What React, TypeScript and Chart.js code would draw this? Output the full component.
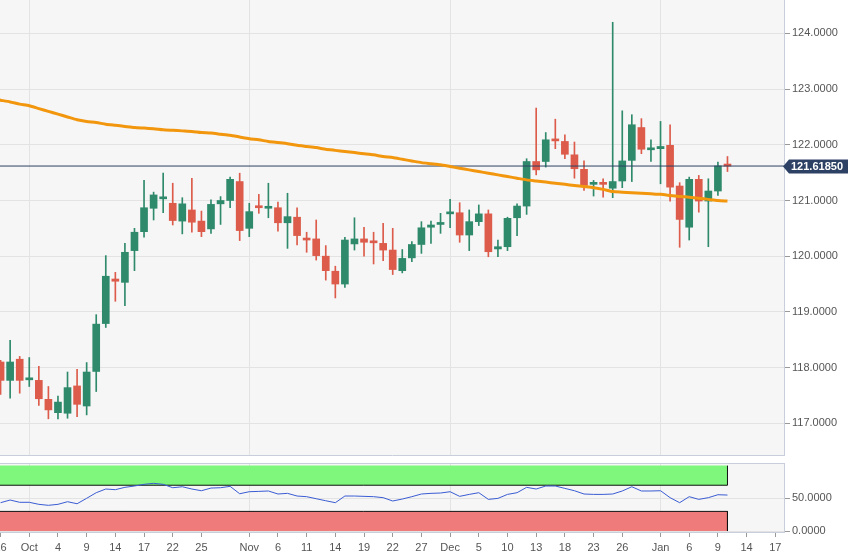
import React, { useEffect, useRef } from "react";
import { Chart, registerables } from "chart.js";

Chart.register(...registerables);

// ---- Data (EUR/JPY daily, 26 Sep 2019 - 10 Jan 2020), index 0 = 26 Sep ----
const OPEN = [
  118.10, 117.77, 118.15, 117.78, 117.77, 117.43, 117.19, 117.18, 117.67, 117.31,
  117.93, 118.79, 119.59, 119.53, 120.10, 120.44, 120.86, 121.03, 120.95, 120.63,
  120.83, 120.63, 120.49, 120.94, 121.00, 121.34, 120.50, 120.89, 120.86, 120.87,
  120.60, 120.70, 120.32, 120.31, 120.00, 119.73, 119.50, 120.22, 120.31, 120.26,
  120.23, 120.11, 119.74, 119.97, 120.21, 120.52, 120.57, 120.76, 120.78, 120.38,
  120.62, 120.76, 120.13, 120.17, 120.69, 120.90, 121.70, 121.70, 122.10, 122.06,
  121.82, 121.56, 121.29, 121.32, 121.22, 121.35, 121.72, 122.31, 121.91, 121.93,
  121.99, 121.26, 120.52, 121.38, 120.99, 121.17, 121.64,
];
const HIGH = [
  118.13, 118.49, 118.20, 118.18, 118.02, 117.66, 117.49, 117.92, 117.97, 118.09,
  118.95, 120.01, 119.71, 120.23, 120.50, 121.36, 121.15, 121.49, 121.31, 121.05,
  121.40, 120.81, 121.01, 121.07, 121.42, 121.49, 120.95, 121.11, 121.31, 120.97,
  121.13, 120.87, 120.43, 120.65, 120.19, 119.82, 120.34, 120.69, 120.52, 120.43,
  120.59, 120.50, 120.12, 120.26, 120.62, 120.63, 120.77, 121.02, 120.96, 120.83,
  120.92, 120.83, 120.29, 120.70, 120.94, 121.75, 122.66, 122.22, 122.46, 122.18,
  122.05, 121.71, 121.36, 121.39, 124.20, 122.61, 122.54, 122.47, 122.09, 122.42,
  122.36, 121.32, 121.42, 121.45, 121.39, 121.69, 121.79,
];
const LOW = [
  117.52, 117.45, 117.54, 117.66, 117.32, 117.08, 117.08, 117.09, 117.12, 117.15,
  117.57, 118.72, 119.19, 119.11, 119.74, 120.34, 120.65, 120.78, 120.56, 120.40,
  120.43, 120.35, 120.41, 120.57, 120.87, 120.28, 120.35, 120.77, 120.69, 120.45,
  120.14, 120.20, 120.07, 119.93, 119.57, 119.25, 119.44, 120.11, 120.00, 119.86,
  119.92, 119.67, 119.70, 119.90, 120.05, 120.23, 120.41, 120.51, 120.25, 120.10,
  120.55, 119.99, 119.99, 120.10, 120.37, 120.75, 121.46, 121.60, 121.93, 121.75,
  121.40, 121.18, 121.08, 121.06, 121.05, 121.23, 121.34, 121.84, 121.70, 121.30,
  120.99, 120.16, 120.29, 120.79, 120.17, 121.09, 121.52,
];
const CLOSE = [
  117.77, 118.10, 117.77, 117.80, 117.44, 117.24, 117.38, 117.64, 117.34, 117.92,
  118.78, 119.64, 119.55, 120.07, 120.43, 120.87, 121.10, 121.05, 120.64, 120.94,
  120.61, 120.44, 120.93, 121.00, 121.38, 120.46, 120.80, 120.87, 120.88, 120.60,
  120.71, 120.37, 120.29, 120.01, 119.74, 119.50, 120.29, 120.31, 120.25, 120.24,
  120.11, 119.76, 119.96, 120.21, 120.51, 120.56, 120.59, 120.78, 120.38, 120.62,
  120.76, 120.08, 120.17, 120.68, 120.90, 121.70, 121.55, 122.09, 122.07, 121.83,
  121.57, 121.27, 121.32, 121.29, 121.34, 121.71, 122.36, 121.92, 121.93, 121.97,
  121.24, 120.66, 121.38, 120.99, 121.17, 121.62, 121.6185,
];
// moving average, first value belongs to index -1
const MA_START = -1;
const MA = [
  122.83, 122.80, 122.77, 122.73, 122.70, 122.65, 122.60, 122.55, 122.50, 122.45,
  122.42, 122.40, 122.37, 122.35, 122.33, 122.31, 122.30, 122.29, 122.27, 122.26,
  122.25, 122.24, 122.22, 122.21, 122.19, 122.17, 122.14, 122.11, 122.09, 122.06,
  122.04, 122.02, 121.99, 121.97, 121.95, 121.92, 121.90, 121.88, 121.86, 121.84,
  121.82, 121.79, 121.77, 121.74, 121.71, 121.68, 121.66, 121.64, 121.61, 121.58,
  121.55, 121.52, 121.49, 121.46, 121.43, 121.40, 121.37, 121.35, 121.33, 121.31,
  121.29, 121.27, 121.25, 121.23, 121.20, 121.16, 121.15, 121.14, 121.13, 121.12,
  121.11, 121.09, 121.07, 121.06, 121.04, 121.02, 121.00, 120.99,
];
const RSI = [
  43.3, 47.4, 43.9, 43.9, 40.8, 39.3, 40.8, 44.8, 41.7, 50.0,
  58.6, 64.2, 63.2, 66.8, 68.8, 71.4, 72.9, 71.4, 66.2, 67.7,
  64.2, 61.6, 65.7, 66.2, 68.3, 57.0, 60.1, 60.6, 61.2, 56.6,
  57.6, 53.5, 52.5, 49.4, 46.3, 43.3, 53.5, 53.5, 53.0, 52.5,
  51.0, 45.9, 48.9, 52.5, 56.6, 57.6, 58.1, 60.1, 53.0, 56.0,
  58.6, 48.4, 49.9, 56.0, 58.6, 66.8, 64.2, 68.8, 68.8, 65.2,
  61.6, 56.6, 56.0, 56.0, 56.6, 61.2, 67.7, 61.2, 61.2, 61.6,
  51.0, 43.3, 52.5, 48.4, 51.0, 55.5, 55.0,
];
const LAST_PRICE = 121.6185;
const RSI_UPPER = 70;
const RSI_LOWER = 30;
const RSI_TOP = 100;
const RSI_BOTTOM = 0;

const X_TICKS = [0, 3, 6, 9, 12, 15, 18, 21, 26, 29, 32, 35, 38, 41, 44, 47, 50, 53, 56, 59, 62, 65, 69, 72, 75, 78, 81];
const X_LABELS = ["26", "Oct", "4", "9", "14", "17", "22", "25", "Nov", "6", "11", "14", "19", "22", "27", "Dec", "5", "10", "13", "18", "23", "26", "Jan", "6", "9", "14", "17"];
const MONTH_TICKS = [3, 26, 47, 69];
const PRICE_TICKS = [117, 118, 119, 120, 121, 122, 123, 124];
const RSI_TICKS = [0, 50];

const X_MIN = -0.06;
const X_MAX = 81.91;

const UP = "#2f8a6c";
const DOWN = "#dc5b4a";
const FONT = "'Liberation Sans', Arial, Helvetica, sans-serif";
const GRID = "#e3e3e3";
const FRAME = "#c8cfdb";
const NAVY = "#2c4164";

const plotBg = {
  id: "plotBg",
  beforeDraw(chart: any) {
    const { ctx, chartArea: a } = chart;
    ctx.save();
    ctx.fillStyle = "#ffffff";
    ctx.fillRect(0, 0, chart.width, chart.height);
    ctx.fillStyle = "#f6f6f6";
    ctx.fillRect(a.left, a.top, a.right - a.left, a.bottom - a.top);
    ctx.restore();
  },
};

const topFrame = {
  id: "topFrame",
  afterDraw(chart: any) {
    const { ctx, chartArea: a } = chart;
    ctx.save();
    ctx.strokeStyle = FRAME;
    ctx.lineWidth = 1;
    ctx.beginPath();
    ctx.moveTo(a.left, a.top + 0.5);
    ctx.lineTo(a.right, a.top + 0.5);
    ctx.stroke();
    ctx.restore();
  },
};

const priceTag = {
  id: "priceTag",
  afterDraw(chart: any) {
    const { ctx, chartArea: a } = chart;
    const y = Math.round(chart.scales.y.getPixelForValue(LAST_PRICE)) + 0.5;
    const x0 = a.right - 1;
    const h = 7;
    ctx.save();
    ctx.fillStyle = NAVY;
    ctx.beginPath();
    ctx.moveTo(x0, y);
    ctx.lineTo(x0 + 6, y - h);
    ctx.lineTo(x0 + 65, y - h);
    ctx.lineTo(x0 + 65, y + h);
    ctx.lineTo(x0 + 6, y + h);
    ctx.closePath();
    ctx.fill();
    ctx.fillStyle = "#ffffff";
    ctx.font = `bold 11px ${FONT}`;
    ctx.textBaseline = "middle";
    ctx.textAlign = "left";
    ctx.fillText(LAST_PRICE.toFixed(5), x0 + 8, y + 0.5);
    ctx.restore();
  },
};

export default function App() {
  const priceRef = useRef<HTMLCanvasElement>(null);
  const rsiRef = useRef<HTMLCanvasElement>(null);

  useEffect(() => {
    const colors = OPEN.map((o, i) => (CLOSE[i] >= o ? UP : DOWN));
    const bodies = OPEN.map((o, i) => ({ x: i, y: [o, CLOSE[i]] }));
    const wicks = OPEN.map((_, i) => ({ x: i, y: [LOW[i], HIGH[i]] }));
    const maPts = MA.map((v, i) => ({ x: i + MA_START, y: v }));
    const lastIdx = CLOSE.length - 1;

    const priceChart = new Chart(priceRef.current as HTMLCanvasElement, {
      type: "bar",
      data: {
        datasets: [
          {
            type: "line",
            data: maPts,
            borderColor: "#f2960d",
            borderWidth: 3,
            pointRadius: 0,
            tension: 0.2,
          } as any,
          {
            type: "line",
            data: [
              { x: MA_START, y: LAST_PRICE },
              { x: X_TICKS[X_TICKS.length - 1] + 3, y: LAST_PRICE },
            ],
            borderColor: NAVY,
            borderWidth: 1,
            pointRadius: 0,
          } as any,
          {
            type: "bar",
            data: bodies,
            backgroundColor: colors,
            barThickness: 7,
            grouped: false,
            minBarLength: 2,
            borderWidth: 0,
          } as any,
          {
            type: "bar",
            data: wicks,
            backgroundColor: colors,
            barThickness: 1,
            grouped: false,
            borderWidth: 0,
          } as any,
        ],
      },
      options: {
        animation: false,
        responsive: false,
        maintainAspectRatio: false,
        layout: { padding: 0 },
        plugins: { legend: { display: false }, tooltip: { enabled: false } },
        scales: {
          x: {
            type: "linear",
            min: X_MIN,
            max: X_MAX,
            offset: false,
            afterBuildTicks: (s: any) => {
              s.ticks = MONTH_TICKS.map((v) => ({ value: v }));
            },
            afterFit: (s: any) => {
              s.height = 1;
              s.paddingLeft = 0;
              s.paddingRight = 0;
            },
            ticks: { display: false },
            grid: { color: GRID, drawTicks: false, offset: false },
            border: { display: true, color: FRAME },
          },
          y: {
            type: "linear",
            position: "right",
            min: 116.43,
            max: 124.6,
            afterBuildTicks: (s: any) => {
              s.ticks = PRICE_TICKS.map((v) => ({ value: v }));
            },
            afterFit: (s: any) => {
              s.width = 78;
              s.paddingTop = 0;
              s.paddingBottom = 0;
            },
            ticks: {
              callback: (v: any) => Number(v).toFixed(4),
              font: { size: 11, family: FONT },
              color: "#555555",
              padding: 2,
            },
            grid: { color: GRID, tickColor: "#999999", tickLength: 6 },
            border: { display: true, color: FRAME },
          },
        },
      } as any,
      plugins: [plotBg, priceTag],
    });

    const rsiChart = new Chart(rsiRef.current as HTMLCanvasElement, {
      type: "line",
      data: {
        datasets: [
          {
            data: RSI.map((v, i) => ({ x: i, y: v })),
            borderColor: "#3a5cd4",
            borderWidth: 1,
            pointRadius: 0,
            fill: false,
          },
          {
            data: [
              { x: MA_START, y: RSI_UPPER },
              { x: lastIdx, y: RSI_UPPER },
              { x: lastIdx, y: RSI_TOP },
            ],
            borderColor: "#111111",
            borderWidth: 1,
            pointRadius: 0,
            backgroundColor: "#7ef77c",
            fill: { value: RSI_TOP },
          },
          {
            data: [
              { x: MA_START, y: RSI_LOWER },
              { x: lastIdx, y: RSI_LOWER },
              { x: lastIdx, y: RSI_BOTTOM },
            ],
            borderColor: "#111111",
            borderWidth: 1,
            pointRadius: 0,
            backgroundColor: "#f07b7b",
            fill: { value: RSI_BOTTOM },
          },
        ],
      } as any,
      options: {
        animation: false,
        responsive: false,
        maintainAspectRatio: false,
        layout: { padding: { top: 7, left: 0, right: 0, bottom: 0 } },
        plugins: { legend: { display: false }, tooltip: { enabled: false } },
        scales: {
          x: {
            type: "linear",
            min: X_MIN,
            max: X_MAX,
            offset: false,
            afterBuildTicks: (s: any) => {
              s.ticks = X_TICKS.map((v) => ({ value: v }));
            },
            afterFit: (s: any) => {
              s.height = 21;
              s.paddingLeft = 0;
              s.paddingRight = 0;
            },
            ticks: {
              autoSkip: false,
              maxRotation: 0,
              minRotation: 0,
              callback: (v: any) => X_LABELS[X_TICKS.indexOf(Number(v))],
              font: { size: 11, family: FONT },
              color: "#555555",
              padding: 4,
            },
            grid: {
              offset: false,
              color: (c: any) =>
                c.tick && MONTH_TICKS.includes(c.tick.value) ? GRID : "rgba(0,0,0,0)",
              tickColor: "#999999",
              tickLength: 5,
            },
            border: { display: true, color: FRAME },
          },
          y: {
            type: "linear",
            position: "right",
            min: -1.5,
            max: 104,
            afterBuildTicks: (s: any) => {
              s.ticks = RSI_TICKS.map((v) => ({ value: v }));
            },
            afterFit: (s: any) => {
              s.width = 78;
              s.paddingTop = 0;
              s.paddingBottom = 0;
            },
            ticks: {
              callback: (v: any) => Number(v).toFixed(4),
              font: { size: 11, family: FONT },
              color: "#555555",
              padding: 2,
            },
            grid: { color: GRID, tickColor: "#999999", tickLength: 6 },
            border: { display: true, color: FRAME },
          },
        },
      } as any,
      plugins: [plotBg, topFrame],
    });

    return () => {
      priceChart.destroy();
      rsiChart.destroy();
    };
  }, []);

  return (
    <div style={{ position: "relative", width: 862, height: 553, background: "#ffffff" }}>
      <style>{"body{margin:0}"}</style>
      <canvas
        ref={priceRef}
        width={862}
        height={456}
        style={{ position: "absolute", left: 0, top: 0, width: 862, height: 456, display: "block" }}
      />
      <canvas
        ref={rsiRef}
        width={862}
        height={97}
        style={{ position: "absolute", left: 0, top: 456, width: 862, height: 97, display: "block" }}
      />
    </div>
  );
}
